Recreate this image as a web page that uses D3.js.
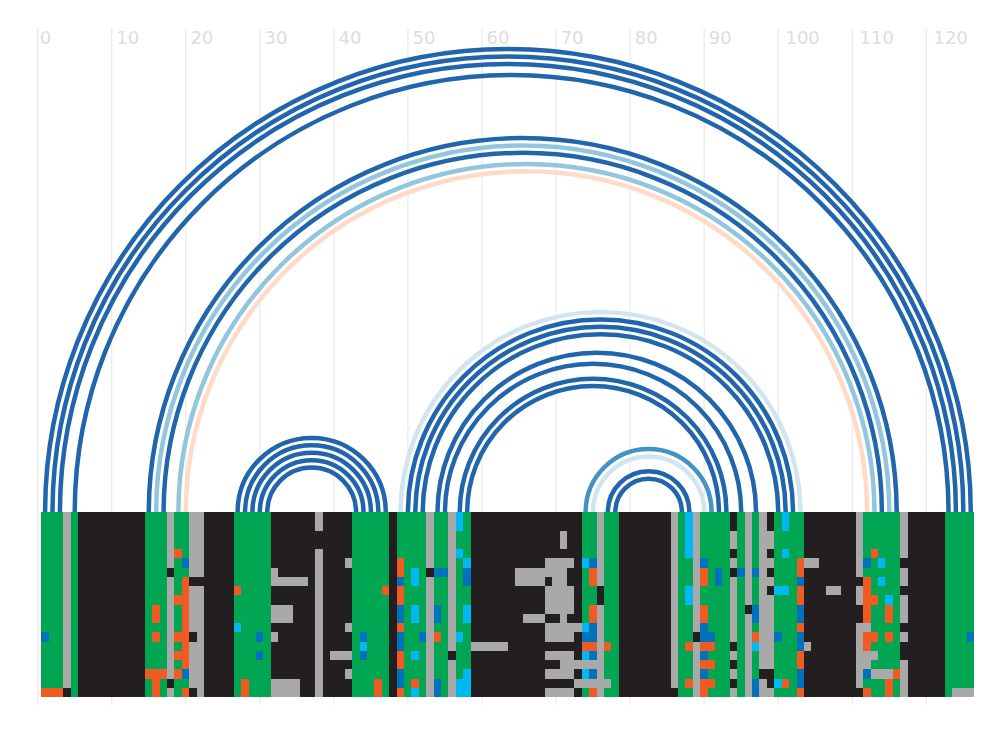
<!DOCTYPE html>
<html><head><meta charset="utf-8">
<script src="https://cdn.jsdelivr.net/npm/d3@7"></script>
<style>html,body{margin:0;padding:0;background:#fff}svg{display:block}</style>
</head><body><svg id="c" width="1008" height="732"></svg>
<script>
const tickValues = d3.range(0, 121, 10);
const rowCount = 20;
const cellColors = {G:"#00A651",A:"#A9A9A9",K:"#231F20",O:"#F15A22",B:"#0072BC",C:"#00B9F2"};
// column runs of the base alignment: [run length, base code]
const baseRuns = [[3,"G"],[1,"A"],[1,"G"],[9,"K"],[3,"G"],[1,"A"],[2,"G"],[2,"A"],[4,"K"],[5,"G"],[6,"K"],[1,"A"],[4,"K"],[5,"G"],[1,"K"],[4,"G"],[1,"A"],[2,"G"],[1,"A"],[2,"G"],[15,"K"],[2,"G"],[1,"A"],[2,"G"],[7,"K"],[1,"A"],[2,"G"],[1,"A"],[4,"G"],[1,"A"],[1,"G"],[1,"A"],[1,"G"],[2,"A"],[4,"G"],[7,"K"],[1,"A"],[5,"G"],[1,"A"],[5,"K"],[4,"G"]];
// exceptions: [first row, last row, first col, last col, code]
const overrides = [
[13,13,0,0,"B"],[19,19,0,2,"O"],[19,19,3,3,"K"],
[10,11,15,15,"O"],[13,13,15,15,"O"],[17,17,14,16,"O"],[18,19,15,15,"O"],
[6,6,17,17,"K"],[18,18,17,17,"K"],
[4,4,18,18,"O"],[5,5,19,19,"B"],[7,8,19,19,"O"],[9,9,18,19,"O"],[10,12,19,19,"O"],[13,13,18,19,"O"],[14,14,19,19,"O"],[15,15,18,19,"O"],[16,16,19,19,"O"],[17,17,18,18,"O"],[17,17,19,19,"B"],[19,19,19,19,"O"],
[7,7,20,21,"K"],[13,13,20,20,"K"],[19,19,20,20,"K"],
[8,8,26,26,"O"],[12,12,26,26,"C"],[18,19,27,27,"O"],[13,13,29,29,"B"],[15,15,29,29,"B"],
[6,6,31,31,"A"],[7,7,31,35,"A"],[10,11,31,33,"A"],[13,13,31,31,"A"],[18,19,31,34,"A"],
[2,3,37,37,"K"],[5,5,41,41,"A"],[12,12,41,41,"A"],[15,15,39,41,"A"],[17,17,41,41,"A"],
[13,13,43,43,"B"],[14,14,43,43,"C"],[15,15,43,43,"B"],[8,8,46,46,"O"],[18,19,45,45,"O"],
[5,6,48,48,"O"],[7,7,48,48,"B"],[8,9,48,48,"O"],[10,11,48,48,"B"],[12,12,48,48,"O"],[13,14,48,48,"B"],[15,16,48,48,"O"],[17,18,48,48,"B"],[19,19,48,48,"O"],
[6,7,50,50,"C"],[10,11,50,50,"C"],[15,15,50,50,"C"],[18,18,50,50,"O"],[19,19,50,50,"C"],[13,13,51,51,"B"],
[6,6,52,52,"K"],[6,6,53,54,"B"],[10,11,53,53,"B"],[13,13,53,53,"O"],[18,19,53,53,"B"],[15,15,55,55,"K"],
[0,1,56,56,"C"],[4,4,56,56,"C"],[13,13,56,56,"C"],[18,19,56,57,"C"],[5,5,57,57,"C"],[6,7,57,57,"B"],[10,11,57,57,"C"],[17,17,57,57,"C"],
[14,14,58,62,"A"],
[2,3,70,70,"A"],[5,5,68,71,"A"],[6,6,64,70,"A"],[7,7,64,67,"A"],[7,7,69,70,"A"],[8,10,68,71,"A"],[11,11,65,67,"A"],[11,11,70,70,"A"],[12,12,68,72,"A"],[13,13,68,71,"A"],[15,15,68,71,"A"],[16,16,70,74,"A"],[17,17,68,71,"A"],[18,18,72,76,"A"],[19,19,68,71,"A"],
[5,5,73,73,"C"],[5,5,74,74,"B"],[6,7,74,74,"O"],[10,11,74,74,"O"],[12,12,73,73,"C"],[12,12,74,74,"B"],[13,13,73,74,"B"],[14,14,73,74,"O"],[14,14,76,76,"O"],[15,15,73,73,"C"],[15,15,74,74,"B"],[17,17,73,73,"C"],[17,17,74,74,"B"],[19,19,74,74,"O"],
[8,9,75,75,"K"],[19,19,85,85,"K"],
[0,4,87,87,"C"],[8,9,87,87,"C"],[14,14,87,87,"O"],[18,18,87,87,"O"],[13,13,88,88,"K"],
[5,5,89,89,"B"],[6,7,89,89,"O"],[6,7,91,91,"B"],[10,11,89,89,"O"],[12,12,89,89,"B"],[13,13,89,90,"B"],[14,14,89,90,"O"],[15,15,89,89,"B"],[16,16,89,90,"O"],[17,17,89,89,"B"],[18,18,89,90,"O"],[19,19,89,89,"O"],
[0,1,93,93,"K"],[4,4,93,93,"K"],[6,6,93,93,"K"],[14,14,93,93,"K"],[16,16,93,93,"K"],[18,18,93,93,"K"],
[6,6,94,94,"B"],[10,10,95,95,"K"],[6,6,96,96,"B"],[10,11,96,96,"B"],[13,13,96,96,"O"],[14,14,96,96,"C"],[18,19,96,96,"B"],
[17,17,97,98,"K"],[0,1,98,98,"K"],[4,4,98,98,"K"],[6,6,98,98,"K"],[8,8,98,98,"K"],[18,18,98,98,"K"],
[0,1,100,100,"C"],[4,4,100,100,"C"],[8,8,99,100,"C"],[13,13,99,99,"B"],[18,18,99,99,"C"],[18,18,100,100,"O"],
[5,6,102,102,"O"],[7,7,102,102,"B"],[8,9,102,102,"O"],[10,11,102,102,"B"],[12,12,102,102,"O"],[13,14,102,102,"B"],[15,16,102,102,"O"],[17,18,102,102,"B"],[19,19,102,102,"O"],
[5,5,103,104,"A"],[14,14,103,103,"A"],[8,8,106,107,"A"],
[7,7,110,110,"K"],[10,11,110,110,"K"],[19,19,110,110,"K"],[12,12,111,111,"A"],[15,15,111,112,"A"],[16,16,111,111,"A"],
[4,4,112,112,"O"],[5,5,111,111,"B"],[5,5,113,113,"C"],[7,7,111,111,"O"],[7,7,113,113,"C"],[8,8,111,111,"O"],[9,9,111,112,"O"],[9,9,114,114,"C"],[10,11,111,111,"O"],[10,11,114,114,"O"],[13,13,111,112,"O"],[13,13,114,114,"O"],[14,14,111,111,"O"],[17,17,111,111,"B"],[17,17,112,114,"A"],[17,17,115,115,"O"],[18,19,114,114,"O"],[19,19,111,111,"O"],
[5,5,116,116,"K"],[8,8,116,116,"K"],[12,12,116,116,"K"],[14,15,116,116,"K"],
[13,13,125,125,"B"],[19,19,123,125,"A"]
];
// arcs: column pairs joined, and their colour
const arcStart = [0,1,2,4, 14,15,16,18,19, 26,27,28,29,30, 48,49,50,51,53,54,56,57, 73,74,76,77];
const arcEnd = [125,124,123,122, 115,114,113,112,111, 46,45,44,43,42, 102,101,100,99,96,94,92,91, 90,89,87,86];
const arcColor = ["#2166AC","#2166AC","#2166AC","#2166AC",
 "#2166AC","#92C5DE","#2166AC","#92C5DE","#FDDBC7",
 "#2166AC","#2166AC","#2166AC","#2166AC","#2166AC",
 "#D1E5F0","#2166AC","#2166AC","#2166AC","#2166AC","#2166AC","#2166AC","#2166AC",
 "#4393C3","#D1E5F0","#2166AC","#2166AC"];

const baseColumns = baseRuns.flatMap(([n, code]) => d3.range(n).map(() => code));
const matrix = d3.range(rowCount).map(() => baseColumns.slice());
overrides.forEach(([r0, r1, c0, c1, code]) => {
  for (let r = r0; r <= r1; r++) for (let c = c0; c <= c1; c++) matrix[r][c] = code;
});

const svg = d3.select("#c");
const x = d3.scaleLinear().domain([0, 120]).range([37.7, 926.3]);
const y = d3.scaleBand().domain(d3.range(rowCount)).range([512, 697]);
const unit = x(1) - x(0);

const axis = d3.axisTop(x).tickValues(tickValues).tickSize(0).tickFormat(d3.format("d"));
const gAxis = svg.append("g").attr("transform", "translate(0,28)").call(axis);
gAxis.select(".domain").remove();
gAxis.selectAll(".tick").attr("transform", d => `translate(${x(d)},0)`);
gAxis.selectAll(".tick line").attr("y1", 0).attr("y2", 677).attr("stroke", "#E6E6E6").attr("stroke-width", 1);
gAxis.selectAll(".tick text")
  .attr("x", d => 2.65 * String(d).length - 0.7).attr("y", 15.5).attr("dy", 0).attr("text-anchor", "start")
  .attr("fill", "#DDDDDD").attr("font-family", "'DejaVu Sans'").attr("font-size", 18);

svg.append("g").attr("fill", "none").attr("stroke-width", 4.5)
  .selectAll("path").data(arcStart.map((s, i) => ({s, e: arcEnd[i], color: arcColor[i]}))).join("path")
  .attr("stroke", d => d.color)
  .attr("d", d => {
    const x0 = x(d.s + 1), x1 = x(d.e + 1), p = d3.path();
    p.moveTo(x0, y.range()[0]);
    p.arc((x0 + x1) / 2, y.range()[0], (x1 - x0) / 2, Math.PI, 2 * Math.PI);
    return p.toString();
  });

const cells = matrix.flatMap((row, r) => row.map((code, c) => ({r, c, code})));
svg.append("g").attr("shape-rendering", "crispEdges")
  .selectAll("rect").data(cells).join("rect")
  .attr("x", d => x(d.c + 1) - unit / 2 - 0.2)
  .attr("y", d => y(d.r))
  .attr("width", unit)
  .attr("height", y.bandwidth())
  .attr("fill", d => cellColors[d.code]);
</script></body></html>
